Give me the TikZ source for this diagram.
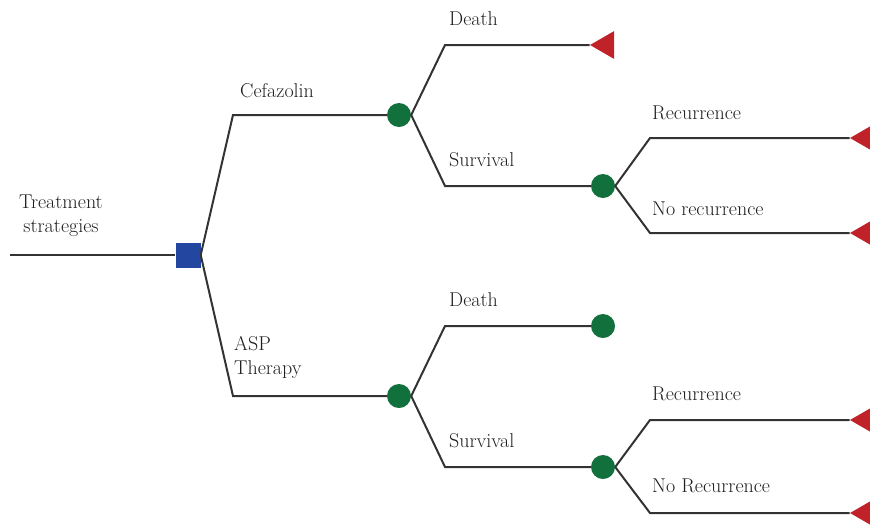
\documentclass[tikz,border=0pt]{standalone}
\usetikzlibrary{shapes.geometric}
\definecolor{decblue}{HTML}{2346A0}
\definecolor{chancegreen}{HTML}{12703C}
\definecolor{termred}{HTML}{C0222A}
\definecolor{linegray}{HTML}{333333}
\definecolor{textgray}{HTML}{1E1E1E}
\begin{document}
\begin{tikzpicture}[x=1pt,y=-1pt,
  branch/.style={draw=linegray,line width=2pt},
  decision/.style={fill=decblue,minimum size=25pt,inner sep=0pt},
  chance/.style={circle,fill=chancegreen,minimum size=24pt,inner sep=0pt},
  terminal/.style={regular polygon,regular polygon sides=3,shape border rotate=90,fill=termred,minimum size=32pt,inner sep=0pt},
  lbl/.style={font=\fontsize{20}{24}\selectfont,text=textgray,inner sep=0pt}]
\useasboundingbox (0,0) rectangle (870,528);

% nodes of the tree
\coordinate (start) at (10,255);
\node[decision] (dec) at (188,255) {};
\node[chance] (caf) at (399,115) {};
\node[chance] (asp) at (399,396) {};
\node[terminal] (cafdeath) at (606,45) {};
\node[chance] (cafsurv) at (603,186) {};
\node[chance] (aspdeath) at (603,326) {};
\node[chance] (aspsurv) at (603,467) {};
\node[terminal] (cafrec) at (866,138) {};
\node[terminal] (cafnorec) at (866,233) {};
\node[terminal] (asprec) at (866,420) {};
\node[terminal] (aspnorec) at (866,513) {};

% elbows
\coordinate (kcaf) at (233,115);
\coordinate (kasp) at (233,396);
\coordinate (kcafdeath) at (445,45);
\coordinate (kcafsurv) at (445,186);
\coordinate (kaspdeath) at (445,326);
\coordinate (kaspsurv) at (445,467);
\coordinate (kcafrec) at (650,138);
\coordinate (kcafnorec) at (650,233);
\coordinate (kasprec) at (650,420);
\coordinate (kaspnorec) at (650,513);

\path[branch] (start) -- (dec);
\path[branch] (dec.east) -- (kcaf) -- (caf);
\path[branch] (dec.east) -- (kasp) -- (asp);

\path[branch] (caf.east) -- (kcafdeath) -- (cafdeath);
\path[branch] (caf.east) -- (kcafsurv) -- (cafsurv);
\path[branch] (asp.east) -- (kaspdeath) -- (aspdeath);
\path[branch] (asp.east) -- (kaspsurv) -- (aspsurv);

\path[branch] (cafsurv.east) -- (kcafrec) -- (cafrec);
\path[branch] (cafsurv.east) -- (kcafnorec) -- (cafnorec);
\path[branch] (aspsurv.east) -- (kasprec) -- (asprec);
\path[branch] (aspsurv.east) -- (kaspnorec) -- (aspnorec);

% labels
\node[lbl,align=center,anchor=north] (ltreat) at (61,195) {Treatment\\strategies};
\node[lbl,anchor=base west] (lcaf) at (240,97) {Cefazolin};
\node[lbl,align=left,anchor=north west] (lasp) at (234,336) {ASP\\Therapy};
\node[lbl,anchor=base west] (lcafdeath) at (449,25) {Death};
\node[lbl,anchor=base west] (lcafsurv) at (449,166) {Survival};
\node[lbl,anchor=base west] (laspdeath) at (449,306) {Death};
\node[lbl,anchor=base west] (laspsurv) at (449,447) {Survival};
\node[lbl,anchor=base west] (lcafrec) at (652,119) {Recurrence};
\node[lbl,anchor=base west] (lcafnorec) at (652,215) {No recurrence};
\node[lbl,anchor=base west] (lasprec) at (652,400) {Recurrence};
\node[lbl,anchor=base west] (laspnorec) at (652,492) {No Recurrence};
\end{tikzpicture}
\end{document}
